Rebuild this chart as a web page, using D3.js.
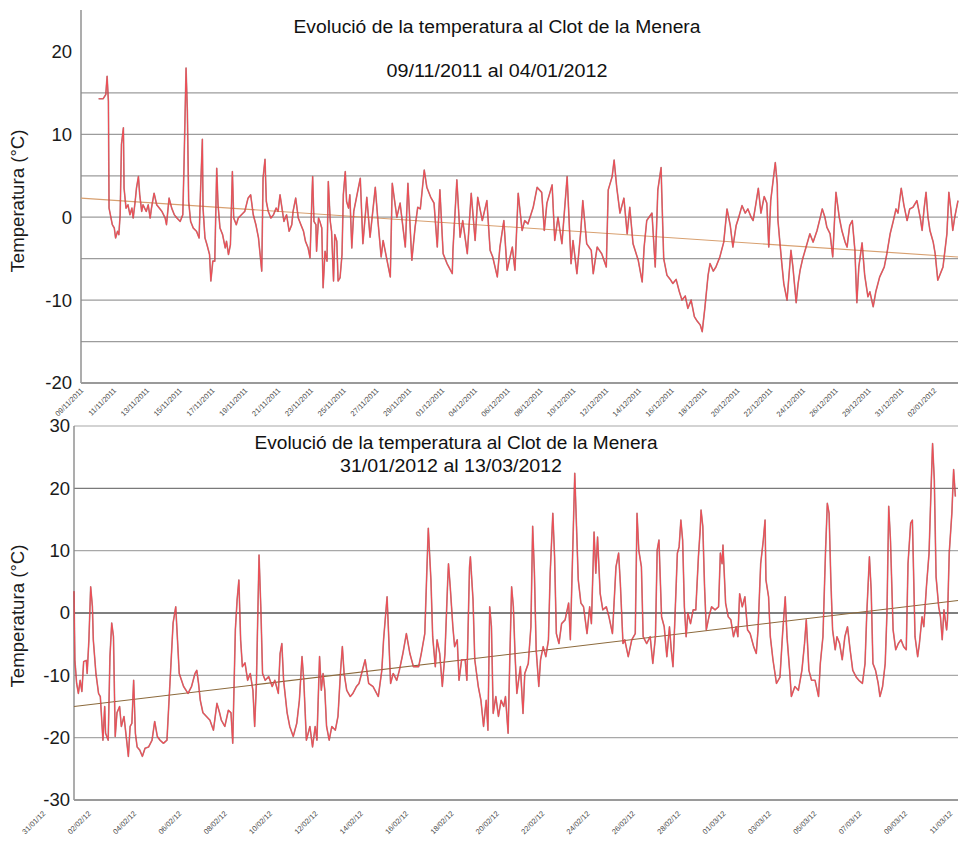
<!DOCTYPE html>
<html>
<head>
<meta charset="utf-8">
<script src="https://cdn.jsdelivr.net/npm/d3@7"></script>
<style>
  body { margin: 0; background: #fff; }
  svg { display: block; }
  text { font-family: "Liberation Sans", Arial, Helvetica, sans-serif; }
</style>
</head>
<body>
<svg id="chart" width="965" height="842"></svg>
<script>
// ---------- Data ----------
const chartTitle = "Evolució de la temperatura al Clot de la Menera";
const yAxisTitle = "Temperatura (°C)";

// Panel 1: 09/11/2011 – 04/01/2012, hourly logger, [hour since start, °C]
const topPeriod = "09/11/2011 al 04/01/2012";
const topHours = 1344;
const topTickLabels = ["09/11/2011","11/11/2011","13/11/2011","15/11/2011","17/11/2011","19/11/2011",
  "21/11/2011","23/11/2011","25/11/2011","27/11/2011","29/11/2011","01/12/2011","04/12/2011",
  "06/12/2011","08/12/2011","10/12/2011","12/12/2011","14/12/2011","16/12/2011","18/12/2011",
  "20/12/2011","22/12/2011","24/12/2011","26/12/2011","29/12/2011","31/12/2011","02/01/2012"];
const topYTicks = [-20, -10, 0, 10, 20];
const topGrid = [-15, -10, -5, 0, 5, 10, 15];
const topTrend = [2.3, -4.8];
const topReadings = [
[27,14.3],[34,14.3],[38,14.8],[40,17],[42,14],[43,1.1],[46,-0.1],[48,-0.9],[51,-1.3],[53,-2.5],[56,-1.7],[58,-2.1],[60,0.3],[62,8.8],[65,10.8],[66,3.5],[69,1.1],[72,1.5],[75,0.3],[78,1.1],[80,-0.1],[83,1.9],[85,3.5],[88,4.9],[90,2.7],[93,0.7],[95,1.5],[100,0.7],[103,1.5],[106,-0.1],[108,1.1],[112,2.9],[116,1.5],[120,1.1],[124,0.7],[129,-0.1],[131,-0.9],[135,2.3],[139,1.1],[143,0.3],[147,-0.1],[152,-0.5],[156,0.3],[158,6.7],[161,18],[163,12.8],[165,1.9],[168,-0.5],[172,-1.3],[177,-1.7],[181,-2.5],[183,2.7],[186,9.4],[187,1.1],[190,-2.5],[193,-3.3],[197,-4.5],[199,-7.7],[202,-5.3],[205,-5.3],[208,5.9],[210,1.5],[213,-1.3],[217,-2.1],[221,-3.7],[223,-2.9],[226,-4.5],[229,-3.3],[232,5.5],[234,-0.1],[238,-0.9],[241,-0.1],[246,0.3],[251,0.7],[256,2.3],[260,2.7],[264,0.3],[268,-0.9],[272,-2.5],[274,-4.1],[277,-6.5],[279,4.7],[282,7],[284,1.9],[287,0.7],[291,-0.1],[295,0.3],[299,1.1],[302,0.7],[305,2.7],[308,1.1],[311,-0.5],[315,0.3],[319,-1.7],[323,-0.9],[325,0.7],[329,2.3],[333,-0.1],[337,-0.9],[341,-1.7],[344,-2.9],[348,-3.7],[351,-4.9],[354,2.7],[355,4.9],[357,-0.5],[360,-0.9],[361,-4.1],[364,-0.1],[366,-0.5],[369,-1.3],[371,-8.5],[374,-4.1],[377,-5.3],[379,4.3],[382,-0.5],[384,-1.7],[387,-7.7],[389,-2.1],[392,-2.9],[394,-7.7],[397,-7.3],[400,-4.5],[402,2.7],[405,5.5],[407,1.9],[410,1.1],[412,2.7],[415,-3.7],[418,0.7],[421,1.9],[425,3.5],
[428,4.7],[432,-3.2],[438,2.4],[443,-2.4],[451,3.6],[455,-0.4],[460,-4.8],[463,-2.8],[469,-5.2],[474,-7.2],[477,4.1],[484,0],[489,1.7],[497,-3.6],[501,4.1],[507,-5.2],[512,-1.2],[516,1.2],[520,1],[526,5.7],[530,3.6],[536,2.4],[541,1.7],[546,-3.6],[550,3.3],[555,-4.4],[561,-5.6],[569,-6.8],[570,-4],[576,4.5],[581,-2.4],[585,-0.4],[592,-4.4],[598,2.9],[604,-2.8],[608,2.4],[615,-0.4],[622,2],[627,-4],[631,-4.8],[638,-7.2],[642,-3.6],[648,-0.4],[653,-6.4],[661,-3.6],[665,-6.4],[670,2.9],[676,-1.6],[680,-0.4],[685,-0.8],[693,1.2],[699,3.6],[706,3],[710,-1.6],[714,1.7],[722,3.9],[726,-2.8],[731,0],[737,-3.2],[745,4.9],[751,-5.6],[754,-2.8],[760,-6.8],[766,-1.6],[769,2],[775,-3.2],[782,-4],[785,-6.8],[791,-3.6],[798,-4.4],[805,-6],[808,3.3],[814,4.9],[817,6.9],[821,3.6],[826,0.5],[832,2.3],[837,-2],[841,1.2],[846,-3.2],[854,-5.2],[860,-7.8],[863,-3.6],[867,-0.4],[875,0.5],[880,-6],[884,3.3],
[889,6],[890,3],[893,-5],[898,-7],[903,-7.5],[907,-8],[912,-7.5],[917,-9],[921,-10],[926,-9.5],[930,-11],[935,-10],[940,-12],[944,-12.5],[949,-13],[952,-13.8],[956,-11],[961,-7],[964,-5.6],[969,-6.5],[973,-6],[979,-4.8],[985,-3],[990,1],[995,-1],[999,-3.6],[1004,-1],[1008,0],[1013,1.4],[1018,0.5],[1022,1],[1027,0],[1030,-0.4],[1034,1.5],[1038,3.5],[1042,0.5],[1047,2.5],[1051,1.7],[1054,-3.6],[1057,2],[1060,4],[1064,6.6],[1067,4],[1068,-0.3],[1071,-3],[1074,-5.6],[1077,-8],[1082,-10],[1085,-7],[1088,-4],[1091,-6],[1096,-10.3],[1099,-8],[1102,-6.4],[1106,-5],[1113,-3.1],[1117,-2],[1122,-3],[1128,-1.6],[1133,0],[1136,1],[1140,0],[1143,-1.2],[1148,-2],[1152,-4.8],[1155,0],[1157,3],[1162,0],[1166,-1.6],[1171,-3],[1174,-3.6],[1178,-1],[1182,-0.4],[1186,-4],[1189,-10.3],[1192,-6],[1197,-3.1],[1201,-7],[1206,-9.6],[1209,-9],[1214,-10.8],[1218,-9],[1224,-7.2],[1231,-6],[1235,-4.4],[1240,-2],[1245,-0.4],[1249,1],[1252,0.5],[1257,3.5],[1261,1.5],[1266,-0.4],[1270,1],[1275,1.2],[1281,2],[1286,0],[1289,-1.6],[1292,1],[1295,3],[1298,0],[1301,-1.6],[1306,-3],[1309,-4.4],[1313,-7.6],[1316,-7],[1321,-6],[1324,-4],[1327,-2],[1330,3],[1333,1],[1336,-1.6],[1339,0],[1344,2]
];

// Panel 2: 31/01/2012 – 13/03/2012, [hour since start, °C]
const bottomPeriod = "31/01/2012 al 13/03/2012";
const bottomHours = 1008;
const bottomTickLabels = ["31/01/12","02/02/12","04/02/12","06/02/12","08/02/12","10/02/12","12/02/12",
  "14/02/12","16/02/12","18/02/12","20/02/12","22/02/12","24/02/12","26/02/12","28/02/12",
  "01/03/12","03/03/12","05/03/12","07/03/12","09/03/12","11/03/12"];
const bottomYTicks = [-30, -20, -10, 0, 10, 20, 30];
const bottomGrid = [-20, -10, 0, 10, 20, 30];
const bottomTrend = [-15, 2];
const bottomReadings = [
[0,3.5],[1,-7.5],[3,-11.3],[5,-12.9],[7,-10.8],[9,-12.6],[11,-7.8],[14,-7.6],[15,-9.7],[17,-4.3],[19,4.2],[21,1],[22,-4.3],[25,-9.7],[28,-12.9],[30,-13.4],[33,-20.4],[35,-15],[36,-19.3],[39,-20.4],[41,-7],[43,-1.6],[45,-3.8],[47,-19.8],[49,-16],[52,-15],[54,-18.2],[57,-16.6],[60,-20.4],[62,-23],[64,-18.2],[66,-17.7],[68,-10.8],[70,-19.3],[72,-21.5],[75,-22],[78,-23],[81,-21.7],[85,-21.5],[89,-20.4],[92,-17.4],[95,-19.8],[98,-20.4],[102,-20.9],[106,-20.4],[108,-15],[110,-9.7],[113,-1.6],[116,1],[118,-4.3],[120,-9.7],[125,-11.8],[130,-12.9],[134,-11.8],[138,-9.7],[140,-9.2],[142,-11.3],[144,-14],[147,-16],[151,-16.6],[155,-17.2],[159,-18.8],[163,-14.5],[166,-16],[168,-17.2],[172,-18.2],[176,-15.6],[179,-16],[181,-20.9],[184,-2.7],[186,2.1],[188,5.3],[190,-4.3],[192,-8.6],[195,-8],[198,-10.8],[201,-9.7],[204,-12.4],[206,-18.2],[208,-11.3],[209,-4.3],[211,9.3],[213,1],[215,-9.7],[218,-10.8],[222,-10.2],[226,-11.8],[229,-10.8],[233,-12.9],[235,-6.5],[237,-4.9],[239,-10.8],[243,-16],[246,-18.2],[250,-19.8],[254,-17.7],[257,-14],[260,-7],[262,-10.8],[265,-20.4],[269,-18.2],[272,-21.5],[275,-18.2],[277,-20.4],[280,-7],[282,-12.4],[284,-9.7],[286,-12.4],[288,-18.2],[291,-20.4],[294,-18.2],[298,-18.8],[301,-16.6],[304,-9.2],[306,-5.4],[308,-9.7],[311,-12.4],[315,-13.4],[318,-12.9],[322,-11.8],[325,-11.3],
[332,-7.5],[336,-11.3],[341,-11.8],[347,-13.4],[351,-9.2],[353,-4.3],[357,2.6],[359,-4.3],[361,-11.3],[364,-9.7],[368,-10.8],[371,-9.2],[375,-6.5],[379,-3.3],[383,-6.5],[387,-8.6],[393,-8.6],[396,-6.5],[400,-3.3],[402,5.3],[404,13.6],[407,5.3],[409,-3.8],[412,-8.6],[414,-4.3],[417,-6.5],[420,-11.8],[423,-6.5],[426,4.7],[427,7.9],[429,4.2],[432,-2.2],[434,-5.4],[437,-4.3],[439,-10.8],[442,-7.5],[446,-7.5],[448,-10.8],[451,7.4],[452,9],[455,2.1],[457,-7.5],[461,-11.8],[464,-14],[467,-18.2],[470,-14],[472,-18.8],[474,1],[476,-2.2],[478,-16.1],[481,-13.4],[484,-16.6],[487,-14],[490,-15],[492,-13.4],[495,-19.3],[497,-7],[499,4.2],[501,1],[503,-7],[505,-12.9],[509,-8.6],[512,-16.1],[514,-9.7],[518,-8.1],[521,-2.2],[523,13.9],[525,6.4],[527,-5.9],[530,-11.8],[532,-7.5],[535,-5.4],[538,-7],[541,-4.3],[543,6.4],[546,16],[548,9],[550,-3.3],[553,-4.9],[556,-1.7],[560,-1.1],[564,1.6],[566,-4.3],[569,11.7],[571,22.4],[573,13.9],[575,5.3],[578,1.6],[581,1],[585,-3.3],[588,1],[590,-1.7],[593,13],[595,6.4],[597,12.2],[600,3.1],[603,0.5],[607,1],[610,-0.6],[614,-3.3],[618,7.4],[621,9.6],[623,4.7],[626,-4.9],[628,-4.3],[632,-7],[636,-4.3],[640,-3.3],[642,16],[644,10.1],[647,7.4],[649,-3.8],[653,-4.9],[657,-3.8],[660,-8.1],[663,-3.8],[665,10.1],[667,11.7],
[670,-0.6],[673,-2.2],[676,-7],[679,-2.2],[681,-5.9],[683,-8.6],[685,-1.7],[688,9.6],[690,10.6],[692,14.9],[694,11.7],[696,1],[698,-3.8],[700,0],[703,-1.7],[706,0.5],[709,0.5],[712,9],[714,13.3],[715,16.5],[717,13.9],[719,4.2],[721,-2.7],[724,-0.6],[727,1],[731,0.5],[735,1],[737,9.6],[739,7.9],[740,10.9],[743,1.6],[746,-0.6],[749,-1.1],[752,-3.8],[755,-2.2],[757,-3.8],[759,3.1],[762,1],[765,2.6],[768,-2.7],[771,-3.3],[775,-5.4],[778,-6.5],[780,-2.7],[783,7.9],[786,11.7],[788,14.9],[789,5.3],[792,2.6],[794,-3.8],[797,-7.5],[801,-11.3],[805,-10.3],[808,-3.3],[811,2.6],[813,-3.8],[816,-9.2],[818,-13.4],[822,-11.8],[826,-12.4],[830,-9.2],[833,-4.9],[835,-1.1],[838,-9.2],[841,-10.8],[845,-10.8],[849,-13.4],[851,-8.1],[854,-3.8],[857,10.1],[859,17.6],[861,16],[863,5.3],[865,-2.7],[868,-5.9],[870,-3.8],[873,-4.9],[876,-7.5],[879,-3.8],[882,-2.2],[885,-5.9],[888,-9.2],[892,-10.3],[895,-10.8],[899,-11.3],[902,-8.1],[904,0],[907,9],[909,3.7],[911,-8.1],[914,-9.2],[917,-11.3],[919,-13.4],[922,-11.8],[925,-8.1],[927,0],[929,17.1],[931,11.7],[934,-2.7],[937,-5.9],[940,-4.9],[943,-4.3],[946,-5.4],[949,-5.9],[951,7.9],[954,14.4],[956,14.9],[959,-3.8],[962,-7],[964,-4.9],[967,-0.6],[969,-2.2],[972,4.2],[975,9.6],[977,18.7],[979,27.2],[981,21.3],[983,5.8],[986,1],[988,-0.6],[990,-4.3],[992,0.5],[995,-2.7],[996,-1.1],[998,9.6],[1001,16],[1003,23],[1005,18.7]
];

// ---------- Drawing ----------
const svg = d3.select("#chart");

function drawPanel(p) {
  const x = d3.scaleLinear().domain([0, p.hours]).range([p.left, p.right]);
  const y = d3.scaleLinear().domain(p.yDomain).range([p.bottom, p.top]);
  const g = svg.append("g");

  // horizontal grid lines
  g.append("g").selectAll("line").data(p.grid).join("line")
    .attr("x1", p.left).attr("x2", p.right)
    .attr("y1", d => y(d)).attr("y2", d => y(d))
    .attr("stroke", d => p.gridStroke(d))
    .attr("stroke-width", d => d === 0 && p.darkZero ? 1.6 : 1.2);

  // axis lines
  g.append("line").attr("x1", p.left).attr("x2", p.left)
    .attr("y1", p.top).attr("y2", p.bottom)
    .attr("stroke", "#8a8a8a").attr("stroke-width", 1.4);
  g.append("line").attr("x1", p.left).attr("x2", p.right)
    .attr("y1", p.bottom).attr("y2", p.bottom)
    .attr("stroke", "#9a9a9a").attr("stroke-width", 2);

  // y tick labels (plain hyphen for negatives)
  const yAxis = g.append("g")
    .attr("transform", `translate(${p.labelRight},0)`)
    .call(d3.axisLeft(y).tickValues(p.yTicks).tickSize(0).tickPadding(0).tickFormat(d => String(d)));
  yAxis.select(".domain").remove();
  yAxis.selectAll("text").attr("font-size", 18.5).attr("fill", "#1a1a1a")
    .style("font-family", '"Liberation Sans", Arial, sans-serif');

  // x category labels, rotated
  const xp = d3.scalePoint().domain(p.tickLabels).range(p.labelRange);
  g.append("g").selectAll("text").data(p.tickLabels).join("text")
    .attr("transform", d => `translate(${xp(d)},${p.labelY}) rotate(-45)`)
    .attr("text-anchor", "end")
    .attr("font-size", 7.5)
    .attr("fill", "#4a4a4a")
    .text(d => d);

  // y axis title
  g.append("text")
    .attr("transform", `translate(24,${p.yTitleCenter}) rotate(-90)`)
    .attr("text-anchor", "middle")
    .attr("font-size", 17.5)
    .attr("textLength", 143).attr("lengthAdjust", "spacingAndGlyphs")
    .attr("fill", "#1a1a1a")
    .text(yAxisTitle);

  // titles
  g.append("text").attr("x", p.titleX).attr("y", p.titleY)
    .attr("text-anchor", "middle").attr("font-size", 17.5).attr("fill", "#111")
    .attr("textLength", p.titleLen).attr("lengthAdjust", "spacingAndGlyphs")
    .text(chartTitle);
  g.append("text").attr("x", p.subX).attr("y", p.subY)
    .attr("text-anchor", "middle").attr("font-size", 17.5).attr("fill", "#111")
    .attr("textLength", p.subLen).attr("lengthAdjust", "spacingAndGlyphs")
    .text(p.period);

  // linear trend
  g.append("line")
    .attr("x1", x(0)).attr("x2", x(p.hours))
    .attr("y1", y(p.trend[0])).attr("y2", y(p.trend[1]))
    .attr("stroke", p.trendColor).attr("stroke-width", 1.1);

  // temperature series
  const line = d3.line().x(d => x(d[0])).y(d => y(d[1]));
  g.append("path").datum(p.readings).attr("d", line)
    .attr("fill", "none").attr("stroke", "#5a2a2a").attr("stroke-opacity", 0.5)
    .attr("stroke-width", 1.6).attr("stroke-linejoin", "round");
  g.append("path").datum(p.readings).attr("d", line)
    .attr("fill", "none").attr("stroke", "#ee4d55")
    .attr("stroke-width", 1.1).attr("stroke-linejoin", "round");
}

drawPanel({
  hours: topHours, readings: topReadings, trend: topTrend, trendColor: "#d8a070",
  left: 81, right: 958, top: 10, bottom: 383, yDomain: [-20, 25],
  grid: topGrid, yTicks: topYTicks, gridStroke: () => "#9c9c9c", darkZero: false,
  labelRight: 72, tickLabels: topTickLabels, labelRange: [84, 937], labelY: 391,
  yTitleCenter: 201, titleX: 497, titleY: 33, titleLen: 407, subX: 497, subY: 77, subLen: 221,
  period: topPeriod
});

drawPanel({
  hours: bottomHours, readings: bottomReadings, trend: bottomTrend, trendColor: "#8c6a3c",
  left: 74, right: 958, top: 426, bottom: 800, yDomain: [-30, 30],
  grid: bottomGrid, yTicks: bottomYTicks,
  gridStroke: d => d === 0 ? "#555" : (d === 20 ? "#7a7a7a" : "#a8a8a8"), darkZero: true,
  labelRight: 70, tickLabels: bottomTickLabels, labelRange: [46, 953], labelY: 814,
  yTitleCenter: 616, titleX: 456, titleY: 449, titleLen: 403, subX: 451, subY: 472, subLen: 222,
  period: bottomPeriod
});
</script>
</body>
</html>
